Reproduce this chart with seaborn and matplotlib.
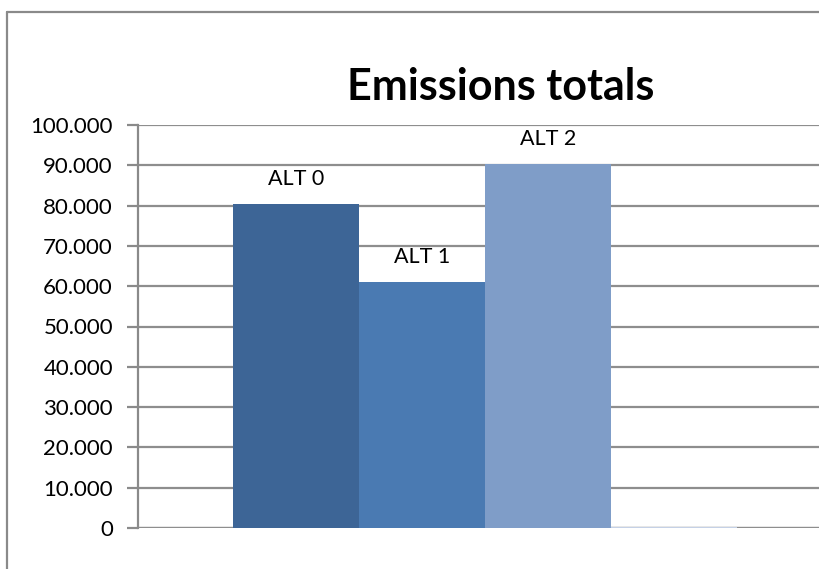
import matplotlib as mpl
import matplotlib.pyplot as plt
import seaborn as sns
import pandas as pd
from matplotlib.ticker import FuncFormatter

# values
series = ["ALT 0", "ALT 1", "ALT 2", "ALT 3"]
values = [80400, 61000, 90300, 350]
labels = ["ALT 0", "ALT 1", "ALT 2", ""]
colors = ["#3d6596", "#4a7ab2", "#7f9dc8", "#c5d1e6"]
yticks = [0, 10000, 20000, 30000, 40000, 50000, 60000, 70000, 80000, 90000, 100000]

sns.set_style("white")
plt.rcParams['font.family'] = ['Lato', 'DejaVu Sans']
plt.rcParams['text.color'] = 'black'
plt.rcParams['ytick.color'] = 'black'

df = pd.DataFrame({'series': series, 'value': values})

W, H = 819, 569
fig = plt.figure(figsize=(W / 100, H / 100), dpi=100)

# chart border (cropped at right/bottom like the screenshot)
fig.add_artist(plt.Line2D([7 / W, 7 / W], [0, 1 - 12 / H], color='#8a8a8a', lw=1.6))
fig.add_artist(plt.Line2D([7 / W, 1], [1 - 12 / H, 1 - 12 / H], color='#8a8a8a', lw=1.6))

# plot area: x from 138 px to ~833 px (runs past the right edge), y from 125 to 528 px
ax = fig.add_axes([138 / W, 1 - 528 / H, (833 - 138) / W, (528 - 125) / H])

sns.barplot(data=df, x='series', y='value', hue='series', palette=colors,
            width=1.0, legend=False, ax=ax, saturation=1, linewidth=0)

ax.set_ylim(0, 100000)
ax.set_xlim(-1.254, 4.258)
ax.set_yticks(yticks)
ax.yaxis.set_major_formatter(FuncFormatter(
    lambda v, p: "0" if v == 0 else f"{int(v):,}".replace(",", ".")))
ax.set_xticks([])
ax.set_xlabel("")
ax.set_ylabel("")
ax.set_axisbelow(True)
ax.yaxis.grid(True, color='#8e8e8e', lw=1.6)

for s in ['top', 'right', 'bottom']:
    ax.spines[s].set_visible(False)
ax.spines['left'].set_color('#8a8a8a')
ax.spines['left'].set_linewidth(1.6)
ax.axhline(0, color='#8e8e8e', lw=1.6, zorder=0.5)
ax.tick_params(axis='y', length=8, width=1.6, color='#8a8a8a', left=True,
               labelsize=16, labelcolor='black', pad=10)

for i, (lab, v) in enumerate(zip(labels, values)):
    if lab:
        ax.text(i, v + 3800, lab, ha='center', va='bottom', fontsize=15.5)

fig.text(501 / W, 1 - 87 / H, "Emissions totals", ha='center', va='center',
         fontsize=31, fontweight='bold')

fig.savefig("out.png", dpi=100)
